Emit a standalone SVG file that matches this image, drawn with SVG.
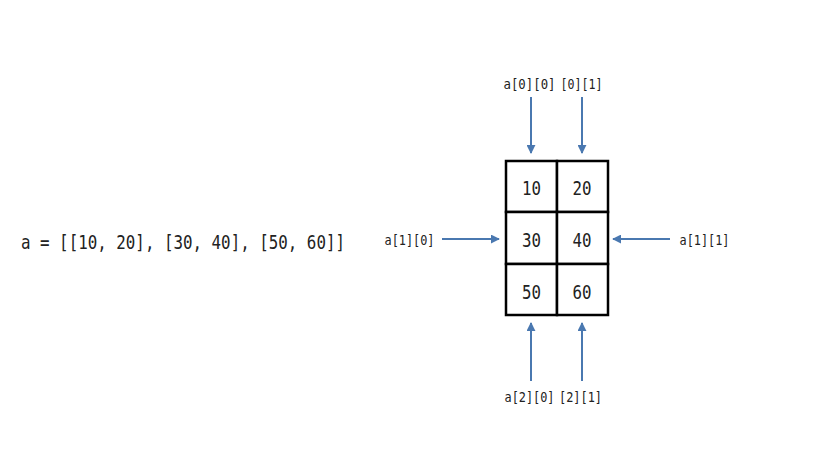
<svg xmlns="http://www.w3.org/2000/svg" width="813" height="458" viewBox="0 0 813 458">
<style>
.mono{font-family:"DejaVu Sans Mono","Liberation Mono",monospace;fill:#222}
.lbl{font-size:14px}
.num{font-size:20px;text-anchor:middle}
.mid{text-anchor:middle}
.cell{fill:#fff;stroke:#000;stroke-width:2.5}
.arr{stroke:#4a78b0;stroke-width:2;fill:none;marker-end:url(#ah)}
</style>
<defs>
<marker id="ah" viewBox="0 0 10 10" refX="9" refY="5" markerWidth="4.5" markerHeight="4.5" orient="auto" markerUnits="strokeWidth">
<path d="M0,0 L10,5 L0,10 z" fill="#4a78b0"/>
</marker>
</defs>
<rect width="813" height="458" fill="#fff"/>
<text id="code" class="mono" x="21" y="249" font-size="20" textLength="324" lengthAdjust="spacingAndGlyphs">a = [[10, 20], [30, 40], [50, 60]]</text>
<g id="grid">
<g id="c00"><rect class="cell" x="506" y="161" width="51" height="51"/><text class="mono num" x="531.5" y="195" textLength="19" lengthAdjust="spacingAndGlyphs">10</text></g>
<g id="c01"><rect class="cell" x="557" y="161" width="51" height="51"/><text class="mono num" x="582" y="195" textLength="19" lengthAdjust="spacingAndGlyphs">20</text></g>
<g id="c10"><rect class="cell" x="506" y="212" width="51" height="52"/><text class="mono num" x="531.5" y="247" textLength="19" lengthAdjust="spacingAndGlyphs">30</text></g>
<g id="c11"><rect class="cell" x="557" y="212" width="51" height="52"/><text class="mono num" x="582" y="247" textLength="19" lengthAdjust="spacingAndGlyphs">40</text></g>
<g id="c20"><rect class="cell" x="506" y="264" width="51" height="51"/><text class="mono num" x="531.5" y="299" textLength="19" lengthAdjust="spacingAndGlyphs">50</text></g>
<g id="c21"><rect class="cell" x="557" y="264" width="51" height="51"/><text class="mono num" x="582" y="299" textLength="19" lengthAdjust="spacingAndGlyphs">60</text></g>
</g>
<g id="labels">
<text class="mono lbl mid" x="529.5" y="89" textLength="52" lengthAdjust="spacingAndGlyphs">a[0][0]</text>
<text class="mono lbl mid" x="581.5" y="89" textLength="42" lengthAdjust="spacingAndGlyphs">[0][1]</text>
<text class="mono lbl" x="384.5" y="245" textLength="50" lengthAdjust="spacingAndGlyphs">a[1][0]</text>
<text class="mono lbl" x="679.5" y="245" textLength="50" lengthAdjust="spacingAndGlyphs">a[1][1]</text>
<text class="mono lbl mid" x="529.5" y="402" textLength="50" lengthAdjust="spacingAndGlyphs">a[2][0]</text>
<text class="mono lbl mid" x="580.5" y="402" textLength="43" lengthAdjust="spacingAndGlyphs">[2][1]</text>
</g>
<g id="connectors">
<line class="arr" x1="531" y1="97" x2="531" y2="153"/>
<line class="arr" x1="582" y1="97" x2="582" y2="153"/>
<line class="arr" x1="442" y1="239" x2="499" y2="239"/>
<line class="arr" x1="670" y1="239" x2="613" y2="239"/>
<line class="arr" x1="531" y1="381" x2="531" y2="323"/>
<line class="arr" x1="582" y1="381" x2="582" y2="323"/>
</g>
</svg>
